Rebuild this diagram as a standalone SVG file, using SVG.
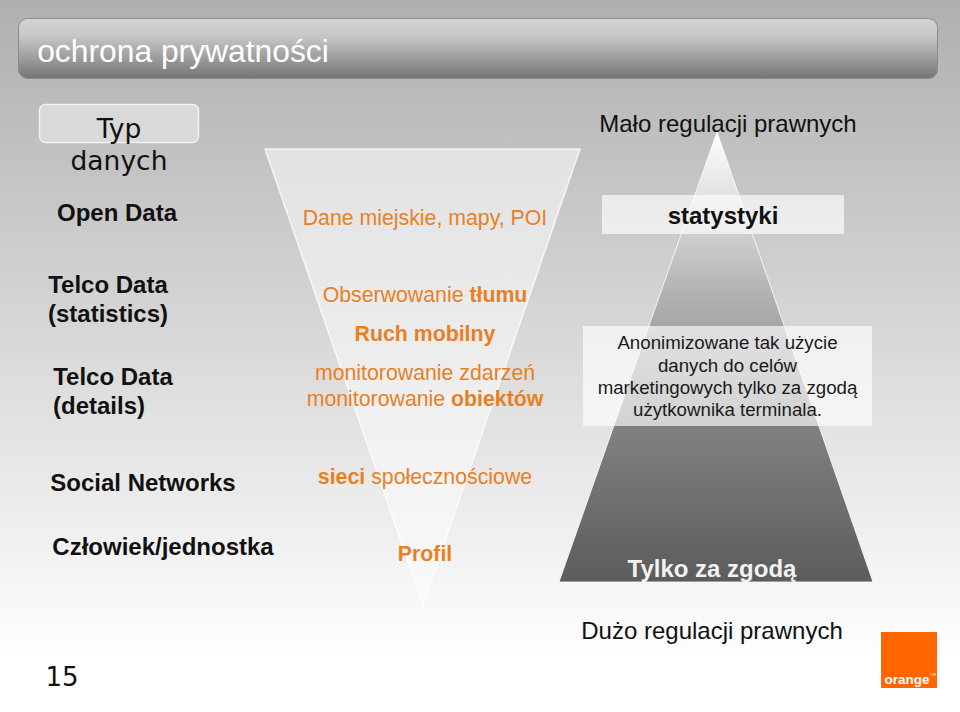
<svg xmlns="http://www.w3.org/2000/svg" width="960" height="712" viewBox="0 0 960 712">
<style>
text{font-family:"Liberation Sans",Arial,sans-serif;text-anchor:middle}
.l{font-size:24px;font-weight:bold;fill:#111}
.o{font-size:21.300px;fill:#e9801f}
.b{font-weight:bold}
.d{font-size:18.700px;fill:#1a1a1a}
.r{font-size:24px;fill:#111}
.p{fill:#fff;fill-opacity:.65}
</style>
<defs>
<linearGradient id="bg" x1="0" y1="0" x2="0" y2="1"><stop offset="0" stop-color="#afafaf"/><stop offset=".93" stop-color="#fff"/></linearGradient>
<linearGradient id="tb" x1="0" y1="0" x2="0" y2="1"><stop offset="0" stop-color="#d4d4d4"/><stop offset=".3" stop-color="#c6c6c6"/><stop offset="1" stop-color="#757575"/></linearGradient>
<linearGradient id="inv" x1="0" y1="0" x2="0" y2="1"><stop offset="0" stop-color="#e2e2e2"/><stop offset="1" stop-color="#fafafa"/></linearGradient>
<linearGradient id="pyr" x1="0" y1="0" x2="0" y2="1"><stop offset="0" stop-color="#fff"/><stop offset=".37" stop-color="#b0b0b0"/><stop offset=".66" stop-color="#808080"/><stop offset="1" stop-color="#5c5c5c"/></linearGradient>
</defs>
<rect id="background" width="960" height="712" fill="url(#bg)"/>
<g id="title"><rect x="18.500" y="18.500" width="919" height="60" rx="9" fill="url(#tb)" stroke="#8c8c8c"/><text x="183" y="62" font-size="31.800" fill="#fff">ochrona prywatności</text></g>
<g id="type-header"><rect x="39.500" y="104.500" width="159" height="38" rx="6" fill="#d9d9d9" stroke="#f2f2f2" stroke-width="1.500"/><text x="119" y="138" style="font-family:'DejaVu Sans',sans-serif" font-size="26.500" fill="#111">Typ</text><text x="119" y="170" style="font-family:'DejaVu Sans',sans-serif" font-size="26.500" fill="#111">danych</text></g>
<g id="funnel"><polygon points="265,149 580,149 423,605" fill="url(#inv)" stroke="#fff" stroke-opacity=".75" stroke-width="1.500"/></g>
<g id="pyramid"><polygon points="717,132 873,582 559,582" fill="url(#pyr)" stroke="#fff" stroke-opacity=".8"/></g>
<g id="left-labels">
<text class="l" x="117" y="221">Open Data</text>
<text class="l" x="108" y="293">Telco Data</text><text class="l" x="108" y="322">(statistics)</text>
<text class="l" x="113" y="385">Telco Data</text><text class="l" x="99" y="414">(details)</text>
<text class="l" x="143" y="491">Social Networks</text>
<text class="l" x="163" y="555">Człowiek/jednostka</text>
</g>
<g id="funnel-labels">
<text class="o" x="425" y="225">Dane miejskie, mapy, POI</text>
<text class="o" x="425" y="302">Obserwowanie <tspan class="b">tłumu</tspan></text>
<text class="o b" x="425" y="341">Ruch mobilny</text>
<text class="o" x="425" y="380">monitorowanie zdarzeń</text>
<text class="o" x="425" y="406">monitorowanie <tspan class="b">obiektów</tspan></text>
<text class="o" x="425" y="484"><tspan class="b">sieci</tspan> społecznościowe</text>
<text class="o b" x="425" y="561">Profil</text>
</g>
<g id="pyramid-labels">
<text class="r" x="728" y="132">Mało regulacji prawnych</text>
<rect class="p" x="602" y="195" width="242" height="39"/>
<text x="723" y="224" font-size="24" font-weight="bold" fill="#111">statystyki</text>
<rect class="p" x="583" y="326" width="289" height="100"/>
<text class="d" x="727.500" y="349">Anonimizowane tak użycie</text>
<text class="d" x="727.500" y="372">danych do celów</text>
<text class="d" x="727.500" y="394">marketingowych tylko za zgodą</text>
<text class="d" x="727.500" y="416">użytkownika terminala.</text>
<text x="712" y="577" font-size="24" font-weight="bold" fill="#f2f2f2">Tylko za zgodą</text>
<text class="r" x="712" y="639">Dużo regulacji prawnych</text>
</g>
<g id="page-number"><text x="62" y="686" style="font-family:'DejaVu Sans',sans-serif" font-size="26" fill="#111">15</text></g>
<g id="logo"><rect x="881" y="632" width="56" height="56" fill="#ff6600"/><text x="907" y="684" font-size="13.500" font-weight="bold" fill="#fff">orange</text><text x="933" y="676" font-size="4" fill="#fff">TM</text></g>
</svg>
